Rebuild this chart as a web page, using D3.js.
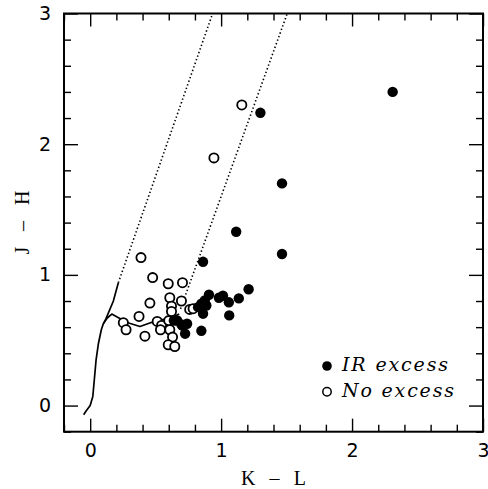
<!DOCTYPE html>
<html>
<head>
<meta charset="utf-8">
<script src="https://cdn.jsdelivr.net/npm/d3@7"></script>
<style>
  body { margin: 0; background: #fff; }
  svg { display: block; }
  .tick text { font-family: "DejaVu Sans", Arial, sans-serif; font-size: 19px; fill: #000; }
</style>
</head>
<body>
<svg id="chart" width="488" height="489"></svg>
<script>
// --- data (K-L, J-H) ---
const irExcess = [
  [2.31, 2.40], [1.30, 2.24], [1.465, 1.70], [1.465, 1.16], [1.115, 1.33],
  [0.862, 1.10], [1.21, 0.89], [1.135, 0.82], [1.062, 0.69], [1.059, 0.79],
  [1.014, 0.84], [0.983, 0.825], [0.907, 0.848], [0.875, 0.805], [0.849, 0.779],
  [0.887, 0.766], [0.824, 0.753], [0.862, 0.703], [0.849, 0.572], [0.725, 0.55],
  [0.705, 0.613], [0.664, 0.651], [0.639, 0.651], [0.74, 0.626], [0.697, 0.62]
];
const noExcess = [
  [1.158, 2.30], [0.945, 1.895], [0.388, 1.132], [0.477, 0.979], [0.596, 0.932],
  [0.705, 0.94], [0.456, 0.784], [0.608, 0.825], [0.697, 0.80], [0.621, 0.76],
  [0.621, 0.72], [0.76, 0.736], [0.786, 0.741], [0.373, 0.682], [0.253, 0.634],
  [0.274, 0.58], [0.418, 0.531], [0.512, 0.644], [0.545, 0.613], [0.537, 0.58],
  [0.608, 0.58], [0.629, 0.524], [0.596, 0.465], [0.646, 0.452], [0.60, 0.65]
];
// dwarf locus and giant branch
const dwarfLocus = [
  [-0.05, -0.07], [-0.03, -0.04], [0.0, 0.0], [0.02, 0.07], [0.03, 0.18],
  [0.045, 0.35], [0.063, 0.475], [0.085, 0.58], [0.10, 0.625], [0.13, 0.67],
  [0.165, 0.70], [0.23, 0.665], [0.30, 0.63], [0.38, 0.605], [0.45, 0.63],
  [0.51, 0.65], [0.60, 0.665], [0.68, 0.70]
];
const giantBranch = [[0.10, 0.625], [0.12, 0.663], [0.177, 0.80], [0.215, 0.94]];
// reddening vectors
const reddenLines = [
  [[0.215, 0.94], [0.935, 3.0]],
  [[0.69, 0.74], [1.505, 3.0]]
];
const majorTicks = [0, 1, 2, 3];
const minorTicks = [-0.2, 0.2, 0.4, 0.6, 0.8, 1.2, 1.4, 1.6, 1.8, 2.2, 2.4, 2.6, 2.8];
const legendItems = [
  { label: "IR excess", filled: true },
  { label: "No excess", filled: false }
];

const svg = d3.select("#chart");
const pLeft = 64, pRight = 483, pTop = 13.5, pBottom = 431.7;

const x = d3.scaleLinear().domain([-0.2, 3]).range([pLeft, pRight]);
const y = d3.scaleLinear().domain([-0.2, 3]).range([pBottom, pTop]);

const plot = svg.append("g");

// clip for dotted lines
svg.append("clipPath").attr("id", "clip")
  .append("rect").attr("x", pLeft).attr("y", pTop).attr("width", pRight - pLeft).attr("height", pBottom - pTop);

const line = d3.line().x(d => x(d[0])).y(d => y(d[1]));

plot.selectAll("path.redden").data(reddenLines).join("path")
  .attr("class", "redden")
  .attr("clip-path", "url(#clip)")
  .attr("d", line)
  .attr("fill", "none").attr("stroke", "#000")
  .attr("stroke-width", 1.6).attr("stroke-dasharray", "1.4,2.4");

plot.append("path").datum(dwarfLocus)
  .attr("d", line)
  .attr("fill", "none").attr("stroke", "#000").attr("stroke-width", 1.7)
  .attr("stroke-linejoin", "round");
plot.append("path").datum(giantBranch)
  .attr("d", line)
  .attr("fill", "none").attr("stroke", "#000").attr("stroke-width", 1.7);

// points
plot.selectAll("circle.no").data(noExcess).join("circle")
  .attr("class", "no")
  .attr("cx", d => x(d[0])).attr("cy", d => y(d[1])).attr("r", 4.6)
  .attr("fill", "#fff").attr("stroke", "#000").attr("stroke-width", 1.8);
plot.selectAll("circle.ir").data(irExcess).join("circle")
  .attr("class", "ir")
  .attr("cx", d => x(d[0])).attr("cy", d => y(d[1])).attr("r", 5.2)
  .attr("fill", "#000");

// axes: ticks point inward on all four sides
function styleAxis(g) {
  g.select(".domain").remove();
  g.selectAll(".tick line").attr("stroke", "#000").attr("stroke-width", 1.4);
}
const fmt = d3.format("d");
svg.append("g").attr("transform", `translate(0,${pBottom})`)
  .call(d3.axisBottom(x).tickValues(majorTicks).tickSize(-13).tickPadding(12).tickFormat(fmt)).call(styleAxis);
svg.append("g").attr("transform", `translate(0,${pBottom})`)
  .call(d3.axisBottom(x).tickValues(minorTicks).tickSize(-7).tickFormat("")).call(styleAxis);
svg.append("g").attr("transform", `translate(0,${pTop})`)
  .call(d3.axisTop(x).tickValues(majorTicks).tickSize(-13).tickFormat("")).call(styleAxis);
svg.append("g").attr("transform", `translate(0,${pTop})`)
  .call(d3.axisTop(x).tickValues(minorTicks).tickSize(-7).tickFormat("")).call(styleAxis);
svg.append("g").attr("transform", `translate(${pLeft},0)`)
  .call(d3.axisLeft(y).tickValues(majorTicks).tickSize(-14).tickPadding(13).tickFormat(fmt)).call(styleAxis);
svg.append("g").attr("transform", `translate(${pLeft},0)`)
  .call(d3.axisLeft(y).tickValues(minorTicks).tickSize(-7).tickFormat("")).call(styleAxis);
svg.append("g").attr("transform", `translate(${pRight},0)`)
  .call(d3.axisRight(y).tickValues(majorTicks).tickSize(-14).tickFormat("")).call(styleAxis);
svg.append("g").attr("transform", `translate(${pRight},0)`)
  .call(d3.axisRight(y).tickValues(minorTicks).tickSize(-7).tickFormat("")).call(styleAxis);

svg.append("rect")
  .attr("x", pLeft).attr("y", pTop).attr("width", pRight - pLeft).attr("height", pBottom - pTop)
  .attr("fill", "none").attr("stroke", "#000").attr("stroke-width", 2);

// axis titles
svg.append("text")
  .attr("x", (pLeft + pRight) / 2).attr("y", 485)
  .attr("text-anchor", "middle")
  .attr("font-family", "'Liberation Serif', 'Times New Roman', serif").attr("font-size", 20)
  .attr("textLength", 65).attr("lengthAdjust", "spacing")
  .text("K \u2013 L");
svg.append("text")
  .attr("transform", `translate(29,${(pTop + pBottom) / 2}) rotate(-90)`)
  .attr("text-anchor", "middle")
  .attr("font-family", "'Liberation Serif', 'Times New Roman', serif").attr("font-size", 20)
  .attr("textLength", 64).attr("lengthAdjust", "spacing")
  .text("J \u2013 H");

// legend
const legend = svg.append("g").attr("transform", "translate(327,366)");
legendItems.forEach((it, i) => {
  const g = legend.append("g").attr("transform", `translate(0,${i * 25.7})`);
  g.append("circle").attr("r", it.filled ? 4.8 : 4.2)
    .attr("fill", it.filled ? "#000" : "#fff")
    .attr("stroke", "#000").attr("stroke-width", it.filled ? 0 : 1.5);
  g.append("text")
    .attr("x", 15).attr("y", 5)
    .attr("font-family", "'DejaVu Serif', serif").attr("font-style", "italic").attr("font-size", 19)
    .attr("textLength", i === 0 ? 106 : 112).attr("lengthAdjust", "spacing")
    .text(it.label);
});
</script>
</body>
</html>
